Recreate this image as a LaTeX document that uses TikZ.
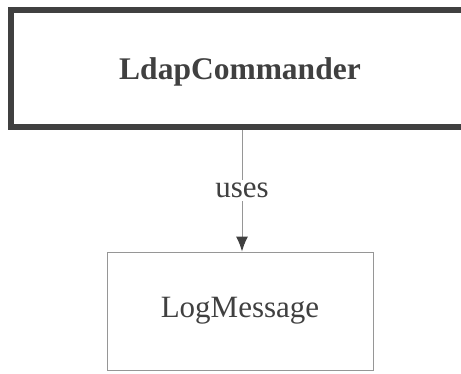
\documentclass[tikz,border=0pt]{standalone}
\usepackage{fontspec}
\setmainfont{Liberation Serif}
\definecolor{classgray}{RGB}{64, 64, 64}
\definecolor{linegray}{RGB}{150, 150, 150}
\usetikzlibrary{
    arrows.meta,
    positioning
}
\begin{document}
\begin{tikzpicture}[x=1pt,y=-1pt,
    classbox/.style={draw=classgray, line width=6pt, minimum width=458pt, minimum height=117pt, text depth=0pt, text=classgray, font=\fontsize{31.5}{36}\selectfont\bfseries},
    usedbox/.style={draw=linegray, line width=1pt, minimum width=266pt, minimum height=118pt, text=classgray, font=\fontsize{31}{36}\selectfont},
    useline/.style={draw=linegray, line width=1pt, -{Latex[length=15pt,width=12pt,color=classgray]}}]
                    \useasboundingbox (0,0) rectangle (461,373);
                    % Commander class
                    \node[classbox] (cmd) at (240,68.5) {LdapCommander};
                    
                    % Message class
                    \node[usedbox] (msg) at (240,311) {LogMessage};
                    
                    % Dependency
                    \draw[useline] (cmd.south -| 242,0) -- node[fill=white, text=classgray, font=\fontsize{31}{36}\selectfont, inner sep=3pt] (uses) {uses} (msg.north -| 242,0);
                \end{tikzpicture}
\end{document}
